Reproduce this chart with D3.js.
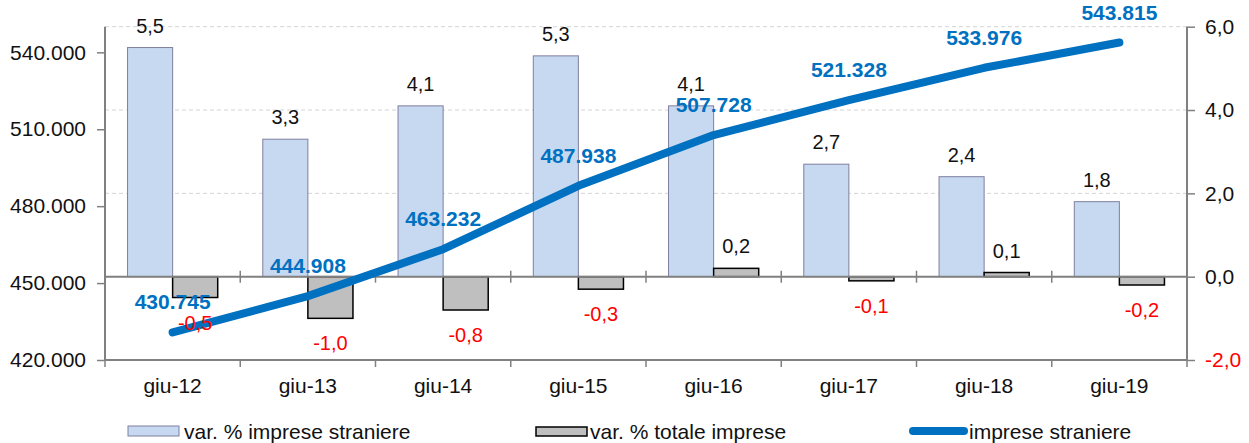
<!DOCTYPE html>
<html>
<head>
<meta charset="utf-8">
<script src="https://cdn.jsdelivr.net/npm/d3@7"></script>
<style>
  body { margin: 0; background: #fff; }
  svg { display: block; font-family: "Liberation Sans", Arial, sans-serif; }
</style>
</head>
<body>
<script>
// data
var categories = ['giu-12', 'giu-13', 'giu-14', 'giu-15', 'giu-16', 'giu-17', 'giu-18', 'giu-19'];
var varStraniere = [5.5, 3.3, 4.1, 5.3, 4.1, 2.7, 2.4, 1.8];
var varTotale = [-0.5, -1.0, -0.8, -0.3, 0.2, -0.1, 0.1, -0.2];
var impreseStraniere = [430745, 444908, 463232, 487938, 507728, 521328, 533976, 543815];
var leftTicks = [420000, 450000, 480000, 510000, 540000];
var rightTicks = [-2, 0, 2, 4, 6];
var seriesNames = ['var. % imprese straniere', 'var. % totale imprese', 'imprese straniere'];

var W = 1249, H = 443;
var pLeft = 105, pRight = 1187, pTop = 26.7, pBottom = 360;

var svg = d3.select('body').append('svg')
    .attr('width', W)
    .attr('height', H);

var x = d3.scaleBand().domain(categories).range([pLeft, pRight]).padding(0);
var yL = d3.scaleLinear().domain([420000, 550000]).range([pBottom, pTop]);
var yR = d3.scaleLinear().domain([-2, 6]).range([pBottom, pTop]);

// italian number style, plain hyphen for minus
var it = d3.formatLocale({decimal: ',', thousands: '.', grouping: [3], currency: ['', '€'], minus: '-'});
var fmtPct = it.format('.1f');
var fmtInt = it.format(',d');

var barW = x.bandwidth() / 3;

// gridlines (dashed, right axis)
svg.append('g').selectAll('line')
    .data(rightTicks.filter(function(d) { return d > 0; }))
    .enter().append('line')
    .attr('x1', pLeft).attr('x2', pRight)
    .attr('y1', function(d) { return yR(d); })
    .attr('y2', function(d) { return yR(d); })
    .attr('stroke', '#d4d4d4')
    .attr('stroke-dasharray', '4,3');

// bars: var % imprese straniere
svg.append('g').selectAll('rect')
    .data(varStraniere)
    .enter().append('rect')
    .attr('x', function(d, i) { return x(categories[i]) + x.bandwidth() / 2 - barW; })
    .attr('width', barW)
    .attr('y', function(d) { return yR(Math.max(d, 0)); })
    .attr('height', function(d) { return Math.abs(yR(d) - yR(0)); })
    .attr('fill', '#c6d9f1')
    .attr('stroke', '#7f7f9f')
    .attr('stroke-width', 1);

// bars: var % totale imprese
svg.append('g').selectAll('rect')
    .data(varTotale)
    .enter().append('rect')
    .attr('x', function(d, i) { return x(categories[i]) + x.bandwidth() / 2; })
    .attr('width', barW)
    .attr('y', function(d) { return yR(Math.max(d, 0)); })
    .attr('height', function(d) { return Math.abs(yR(d) - yR(0)); })
    .attr('fill', '#bfbfbf')
    .attr('stroke', '#000')
    .attr('stroke-width', 1.5);

// zero line with category ticks
var zeroAxis = svg.append('g')
    .attr('transform', 'translate(0,' + yR(0) + ')');
zeroAxis.append('line')
    .attr('x1', pLeft).attr('x2', pRight)
    .attr('stroke', '#808080').attr('stroke-width', 2);
zeroAxis.selectAll('.zt')
    .data(categories.slice(1))
    .enter().append('line')
    .attr('x1', function(d) { return x(d); })
    .attr('x2', function(d) { return x(d); })
    .attr('y1', -6).attr('y2', 6)
    .attr('stroke', '#808080').attr('stroke-width', 1.5);

// bottom axis
var xAxis = svg.append('g')
    .attr('transform', 'translate(0,' + pBottom + ')');
xAxis.append('line')
    .attr('x1', pLeft).attr('x2', pRight)
    .attr('stroke', '#808080').attr('stroke-width', 2);
xAxis.selectAll('.bt')
    .data(categories.concat(['end']))
    .enter().append('line')
    .attr('x1', function(d) { return d === 'end' ? pRight : x(d); })
    .attr('x2', function(d) { return d === 'end' ? pRight : x(d); })
    .attr('y1', 0).attr('y2', 7)
    .attr('stroke', '#808080').attr('stroke-width', 1.5);
xAxis.selectAll('text')
    .data(categories)
    .enter().append('text')
    .attr('x', function(d) { return x(d) + x.bandwidth() / 2; })
    .attr('y', 33)
    .attr('text-anchor', 'middle')
    .attr('font-size', 21)
    .attr('fill', '#111')
    .text(function(d) { return d; });

// left axis
var lAxis = svg.append('g')
    .attr('transform', 'translate(' + pLeft + ',0)')
    .call(d3.axisLeft(yL).tickValues(leftTicks).tickSize(8).tickPadding(11).tickFormat(fmtInt));
lAxis.select('.domain').attr('d', 'M0,' + pTop + 'V' + pBottom).attr('stroke', '#808080').attr('stroke-width', 2);
lAxis.selectAll('.tick line').attr('stroke', '#808080').attr('stroke-width', 1.5);
lAxis.selectAll('.tick text').attr('font-size', 21).attr('fill', '#111')
    .attr('font-family', '"Liberation Sans", Arial, sans-serif');

// right axis
var rAxis = svg.append('g')
    .attr('transform', 'translate(' + pRight + ',0)')
    .call(d3.axisRight(yR).tickValues(rightTicks).tickSize(8).tickPadding(10).tickFormat(fmtPct));
rAxis.select('.domain').attr('d', 'M0,' + pTop + 'V' + pBottom).attr('stroke', '#808080').attr('stroke-width', 2);
rAxis.selectAll('.tick line').attr('stroke', '#808080').attr('stroke-width', 1.5);
rAxis.selectAll('.tick text').attr('font-size', 21)
    .attr('font-family', '"Liberation Sans", Arial, sans-serif')
    .attr('fill', function(d) { return d < 0 ? '#ff0000' : '#111'; });

// line: imprese straniere
var line = d3.line()
    .x(function(d, i) { return x(categories[i]) + x.bandwidth() / 2; })
    .y(function(d) { return yL(d); });
svg.append('path')
    .datum(impreseStraniere)
    .attr('d', line)
    .attr('fill', 'none')
    .attr('stroke', '#0070c0')
    .attr('stroke-width', 8)
    .attr('stroke-linecap', 'round')
    .attr('stroke-linejoin', 'round');

// bar labels
svg.append('g').selectAll('text')
    .data(varStraniere)
    .enter().append('text')
    .attr('x', function(d, i) { return x(categories[i]) + x.bandwidth() / 2 - barW / 2; })
    .attr('y', function(d) { return yR(d) - 15; })
    .attr('text-anchor', 'middle')
    .attr('font-size', 20)
    .attr('fill', '#111')
    .text(fmtPct);

svg.append('g').selectAll('text')
    .data(varTotale)
    .enter().append('text')
    .attr('x', function(d, i) { return x(categories[i]) + x.bandwidth() / 2 + barW / 2; })
    .attr('y', function(d) { return d < 0 ? yR(d) + 32 : yR(d) - 15; })
    .attr('text-anchor', 'middle')
    .attr('font-size', 20)
    .attr('fill', function(d) { return d < 0 ? '#ff0000' : '#111'; })
    .text(fmtPct);

// line labels
svg.append('g').selectAll('text')
    .data(impreseStraniere)
    .enter().append('text')
    .attr('x', function(d, i) { return x(categories[i]) + x.bandwidth() / 2; })
    .attr('y', function(d) { return yL(d) - 23; })
    .attr('text-anchor', 'middle')
    .attr('font-size', 21)
    .attr('font-weight', 'bold')
    .attr('fill', '#0070c0')
    .text(fmtInt);

// legend
var lg = svg.append('g');
lg.append('rect').attr('x', 128).attr('y', 426).attr('width', 51).attr('height', 10)
    .attr('fill', '#c6d9f1').attr('stroke', '#7f7f9f');
lg.append('text').attr('x', 184).attr('y', 439).attr('font-size', 21).attr('fill', '#111').text(seriesNames[0]);
lg.append('rect').attr('x', 536).attr('y', 427).attr('width', 51).attr('height', 9)
    .attr('fill', '#bfbfbf').attr('stroke', '#000').attr('stroke-width', 1.5);
lg.append('text').attr('x', 590).attr('y', 439).attr('font-size', 21).attr('fill', '#111').text(seriesNames[1]);
lg.append('line').attr('x1', 913).attr('x2', 964).attr('y1', 431).attr('y2', 431)
    .attr('stroke', '#0070c0').attr('stroke-width', 8).attr('stroke-linecap', 'round');
lg.append('text').attr('x', 969).attr('y', 439).attr('font-size', 21).attr('fill', '#111').text(seriesNames[2]);
</script>
</body>
</html>
